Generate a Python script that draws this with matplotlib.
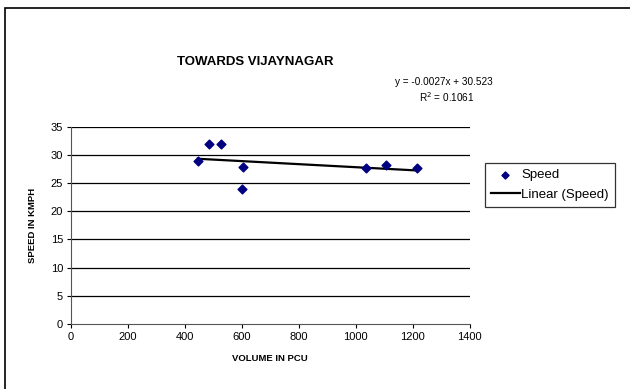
import matplotlib
matplotlib.use("Agg")
import matplotlib.pyplot as plt
import numpy as np
from matplotlib.patches import Rectangle

volume = [446, 484, 527, 600, 605, 1035, 1105, 1214]
speed = [29.0, 31.9, 32.0, 23.9, 27.8, 27.6, 28.2, 27.6]
slope, intercept = -0.0027, 30.523
r2 = 0.1061
xticks = [0, 200, 400, 600, 800, 1000, 1200, 1400]
yticks = [0, 5, 10, 15, 20, 25, 30, 35]

plt.rcParams['font.family'] = ['Liberation Sans', 'DejaVu Sans']
fig = plt.figure(figsize=(6.3, 3.89), dpi=100)
fig.patches.append(Rectangle((5/630, -0.1), 1.2, 1 - 8/389 + 0.1, transform=fig.transFigure,
                             fill=False, edgecolor='black', linewidth=1.2))
ax = fig.add_axes([0.1122, 0.167, 0.6334, 0.5072])
for y in yticks[1:]:
    ax.axhline(y, color='black', linewidth=0.9, zorder=1)
ax.scatter(volume, speed, marker='D', s=20, color='#000080', zorder=3, label='Speed')
xs = np.array([min(volume), max(volume)])
ax.plot(xs, slope * xs + intercept, color='black', linewidth=1.6, zorder=2, label='Linear (Speed)')
ax.set_xlim(0, 1400)
ax.set_ylim(0, 35)
ax.set_xticks(xticks)
ax.set_yticks(yticks)
ax.tick_params(labelsize=8, length=3, width=0.8, direction='out', pad=2.5)
for s in ['top', 'right']:
    ax.spines[s].set_visible(False)
ax.spines['left'].set_color('#555555')
ax.spines['bottom'].set_color('#555555')
ax.set_xlabel('VOLUME IN PCU', fontsize=6.8, fontweight='bold', labelpad=9)
ax.set_ylabel('SPEED IN KMPH', fontsize=6.8, fontweight='bold', labelpad=10)
fig.text(255/630, 1 - 62/389, 'TOWARDS VIJAYNAGAR', fontsize=9.5, fontweight='bold',
         ha='center', va='center')
fig.text(444/630, 1 - 82/389, 'y = -0.0027x + 30.523', fontsize=7.2, ha='center', va='center')
fig.text(447/630, 1 - 97/389, r'R$^2$ = 0.1061', fontsize=7.2, ha='center', va='center')
leg = ax.legend(loc='upper left', bbox_to_anchor=(485/630, 1 - 163/389), bbox_transform=fig.transFigure,
                fontsize=9.5, frameon=True, fancybox=False, edgecolor='black', borderpad=0.45,
                handlelength=2.2, handletextpad=0.1, labelspacing=0.55, borderaxespad=0,
                markerscale=0.8)
leg.get_frame().set_linewidth(0.9)
fig.savefig('out.png', dpi=100)
